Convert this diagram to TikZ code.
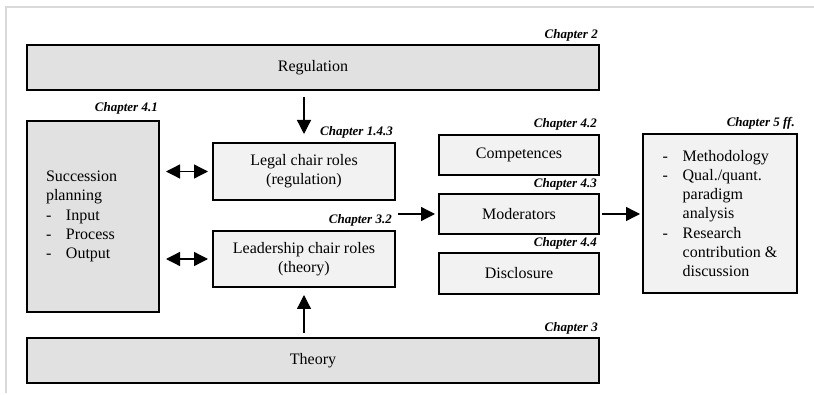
\documentclass[tikz,border=0pt]{standalone}
\usepackage{fontspec}
\setmainfont{Liberation Serif}
\usetikzlibrary{arrows.meta}
\definecolor{boxdark}{HTML}{E1E1E1}
\definecolor{boxlight}{HTML}{F2F2F2}
\definecolor{framegrey}{HTML}{D9D9D9}
\begin{document}
\begin{tikzpicture}[x=1pt,y=-1pt,
  box/.style={draw=black, line width=1.3pt, inner sep=0pt, outer sep=0pt,
    font=\fontsize{16}{19.3}\selectfont},
  dark/.style={box, fill=boxdark},
  light/.style={box, fill=boxlight},
  chap/.style={anchor=base east, inner sep=0pt,
    font=\fontsize{13}{15}\selectfont\bfseries\itshape},
  arr/.style={line width=1.3pt, -{Triangle[length=14pt,width=14pt]}},
  darr/.style={line width=1.3pt,
    {Triangle[length=14pt,width=14pt]}-{Triangle[length=14pt,width=14pt]}}]

\useasboundingbox (0,0) rectangle (814,395);
\draw[framegrey, line width=2pt] (814,7) -- (5.5,7) -- (5.5,393);

% boxes
\node[dark, minimum width=572pt, minimum height=45pt] (reg) at (313,67.5) {Regulation};
\node[dark, minimum width=572pt, minimum height=45pt] (theory) at (313,360.5) {Theory};
\node[dark, minimum width=132pt, minimum height=191pt, text width=94pt, align=left]
  (succ) at (93,216.5)
  {Succession\\ planning\\ \makebox[20pt][l]{-}Input\\ \makebox[20pt][l]{-}Process\\ \makebox[20pt][l]{-}Output};
\node[light, minimum width=182pt, minimum height=57pt, align=center] (legal) at (304,171.5)
  {Legal chair roles\\ (regulation)};
\node[light, minimum width=182pt, minimum height=56pt, align=center] (lead) at (304,259)
  {Leadership chair roles\\ (theory)};
\node[light, minimum width=160pt, minimum height=40pt] (comp) at (519,155) {Competences};
\node[light, minimum width=160pt, minimum height=40pt] (mod) at (519,214) {Moderators};
\node[light, minimum width=160pt, minimum height=41pt] (disc) at (519,273.5) {Disclosure};
\node[light, minimum width=154pt, minimum height=159pt, align=left] (ch5) at (720,213.5)
  {\makebox[20pt][l]{-}Methodology\\
   \makebox[20pt][l]{-}Qual./quant.\\
   \hspace*{20pt}paradigm\\
   \hspace*{20pt}analysis\\
   \makebox[20pt][l]{-}Research\\
   \hspace*{20pt}contribution \&\\
   \hspace*{20pt}discussion};

% chapter labels
\node[chap] (l2) at (598,39) {Chapter 2};
\node[chap] (l41) at (158,112) {Chapter 4.1};
\node[chap] (l143) at (393,135.5) {Chapter 1.4.3};
\node[chap] (l32) at (392,224) {Chapter 3.2};
\node[chap] (l42) at (597,128) {Chapter 4.2};
\node[chap] (l43) at (597,188) {Chapter 4.3};
\node[chap] (l44) at (597,247) {Chapter 4.4};
\node[chap] (l5) at (795,127) {Chapter 5 ff.};
\node[chap] (l3) at (598,332) {Chapter 3};

% connectors
\draw[arr, shorten <=7pt, shorten >=9pt] (reg.south -| legal.north) -- (legal.north);
\draw[arr, shorten <=5pt, shorten >=8pt] (theory.north -| lead.south) -- (lead.south);
\draw[darr, shorten <=7pt, shorten >=5pt] (succ.east |- legal.west) -- (legal.west);
\draw[darr, shorten <=7pt, shorten >=5pt] (succ.east |- lead.west) -- (lead.west);
\coordinate (modin) at (398,214);
\draw[arr, shorten >=4pt] (modin) -- (mod.west);
\draw[arr, shorten <=3pt, shorten >=3pt] (mod.east) -- (ch5.west |- mod.east);
\end{tikzpicture}
\end{document}
